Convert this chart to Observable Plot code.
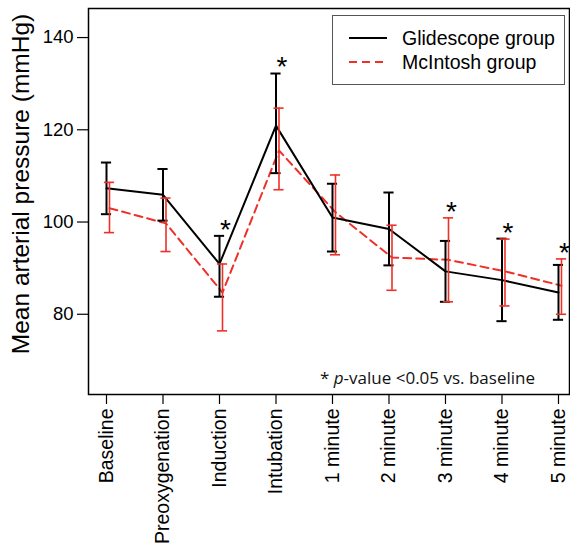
<!DOCTYPE html>
<html>
<head>
<meta charset="utf-8">
<script src="https://cdn.jsdelivr.net/npm/d3@7"></script>
<script src="https://cdn.jsdelivr.net/npm/@observablehq/plot@0.6"></script>
<style>
  body { margin: 0; background: white; }
  #wrap { position: relative; width: 570px; height: 549px; font-family: "Liberation Sans", Arial, sans-serif; }
  #ytitle { position: absolute; left: 21px; top: 183.5px; transform: translate(-50%, -50%) rotate(-90deg); white-space: nowrap; font-size: 24.5px; color: #000; }
  #legend { position: absolute; left: 332px; top: 15px; width: 231px; height: 68px; border: 1.5px solid #555; background: white; }
  .row { position: absolute; left: 0; height: 24px; display: flex; align-items: center; }
  .row svg { margin-left: 16px; }
  .row span { margin-left: 15px; font-size: 19.5px; color: #000; }
  #note { position: absolute; left: 320px; top: 366px; font-family: "Open Sans", sans-serif; font-size: 17px; color: #111; white-space: nowrap; }
</style>
</head>
<body>
<div id="wrap">
  <div id="chart"></div>
  <div id="ytitle">Mean arterial pressure (mmHg)</div>
  <div id="legend">
    <div class="row" style="top:10px"><svg width="38" height="4"><line x1="0" y1="2" x2="38" y2="2" stroke="#000" stroke-width="2"/></svg><span>Glidescope group</span></div>
    <div class="row" style="top:34px"><svg width="38" height="4"><line x1="0" y1="2" x2="38" y2="2" stroke="#ee3028" stroke-width="2" stroke-dasharray="8,5"/></svg><span>McIntosh group</span></div>
  </div>
  <div id="note">* <i>p</i>-value &lt;0.05 vs. baseline</div>
</div>
<script>
const labels = ["Baseline","Preoxygenation","Induction","Intubation","1 minute","2 minute","3 minute","4 minute","5 minute"];
const gMean = [107.3,105.9,90.9,120.9,101.0,98.5,89.3,87.4,84.7];
const gHi   = [112.9,111.5,97.0,132.2,108.3,106.4,95.9,96.4,90.7];
const gLo   = [101.7,100.3,83.8,110.6,93.6,90.6,82.7,78.5,78.8];
const mMean = [103.0,99.7,84.7,115.5,102.1,92.3,91.8,89.3,86.2];
const mHi   = [108.6,105.2,90.9,124.7,110.2,99.3,100.9,96.3,92.0];
const mLo   = [97.7,93.6,76.4,107.0,92.9,85.2,82.7,81.8,80.0];
const sig   = [0,0,1,1,0,0,1,1,1];
const yTicks = [80,100,120,140];

const RED = "#ee3028";
const cap = 0.09;
const g = labels.map((l,i)=>({i, mean:gMean[i], hi:gHi[i], lo:gLo[i]}));
const m = labels.map((l,i)=>({i, mean:mMean[i], hi:mHi[i], lo:mLo[i]}));
const stars = labels.map((l,i)=>({i, top: Math.max(gHi[i], mHi[i])})).filter(d=>sig[d.i]);

const chart = Plot.plot({
  width: 570, height: 549,
  marginLeft: 88, marginRight: 1, marginTop: 8, marginBottom: 155,
  x: {type: "linear", domain: [-0.3186, 8.195], axis: null},
  y: {domain: [62.6, 146.3], axis: null},
  style: {fontFamily: "'Liberation Sans', Arial, sans-serif", color: "#000", background: "white", overflow: "visible"},
  marks: [
    Plot.frame({stroke: "#000", strokeWidth: 1.5}),
    Plot.axisY({ticks: yTicks, tickSize: 11, tickPadding: 4, fontSize: 18.5, label: null, strokeWidth: 1.2}),
    Plot.axisX({ticks: d3.range(labels.length), tickFormat: i => labels[i], tickRotate: -90, tickSize: 10, tickPadding: 4, fontSize: 19.5, label: null, strokeWidth: 1.2}),
    Plot.line(m, {x: "i", y: "mean", stroke: RED, strokeWidth: 2, strokeDasharray: "8,5", dx: 3}),
    Plot.line(g, {x: "i", y: "mean", stroke: "#000", strokeWidth: 2}),
    Plot.ruleX(g, {x: "i", y1: "lo", y2: "hi", stroke: "#000", strokeWidth: 2}),
    Plot.ruleY(g, {x1: d => d.i - cap, x2: d => d.i + cap, y: "hi", stroke: "#000", strokeWidth: 2}),
    Plot.ruleY(g, {x1: d => d.i - cap, x2: d => d.i + cap, y: "lo", stroke: "#000", strokeWidth: 2}),
    Plot.ruleX(m, {x: "i", y1: "lo", y2: "hi", stroke: RED, strokeWidth: 1.6, dx: 3}),
    Plot.ruleY(m, {x1: d => d.i - cap, x2: d => d.i + cap, y: "hi", stroke: RED, strokeWidth: 1.6, dx: 3}),
    Plot.ruleY(m, {x1: d => d.i - cap, x2: d => d.i + cap, y: "lo", stroke: RED, strokeWidth: 1.6, dx: 3}),
    Plot.text(stars, {x: "i", y: "top", text: () => "*", fontSize: 28, dx: 6, dy: -6, fill: "#000", textAnchor: "middle", lineAnchor: "middle"})
  ]
});
document.getElementById("chart").appendChild(chart);
</script>
</body>
</html>
